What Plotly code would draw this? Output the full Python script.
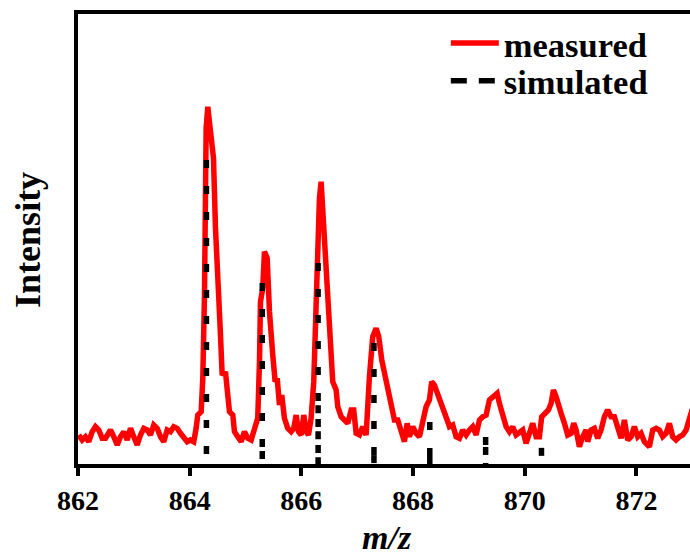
import plotly.graph_objects as go

# measured spectrum (m/z, relative intensity)
mz = [862.014, 862.075, 862.134, 862.193, 862.254, 862.313, 862.372, 862.433, 862.492, 862.551,
      862.582, 862.641, 862.702, 862.761, 862.820, 862.881, 862.940, 862.999, 863.060, 863.119,
      863.178, 863.239, 863.298, 863.357, 863.418, 863.477, 863.536, 863.597, 863.656, 863.715,
      863.776, 863.835, 863.894, 863.955, 864.014, 864.073, 864.116, 864.145, 864.206, 864.235,
      864.265, 864.283, 864.295, 864.324, 864.354, 864.385, 864.426, 864.462, 864.503, 864.546,
      864.582, 864.641, 864.682, 864.713, 864.772, 864.802, 864.861, 864.922, 864.981, 865.040,
      865.101, 865.160, 865.219, 865.250, 865.268, 865.309, 865.339, 865.388, 865.429, 865.488,
      865.531, 865.567, 865.608, 865.649, 865.697, 865.756, 865.817, 865.864, 865.907, 865.948,
      865.996, 866.043, 866.086, 866.127, 866.175, 866.222, 866.265, 866.283, 866.324, 866.354,
      866.383, 866.426, 866.473, 866.521, 866.562, 866.623, 866.652, 866.713, 866.772, 866.831,
      866.892, 866.938, 866.981, 867.040, 867.099, 867.160, 867.219, 867.278, 867.339, 867.386,
      867.440, 867.500, 867.547, 867.608, 867.667, 867.726, 867.787, 867.846, 867.894, 867.936,
      867.995, 868.056, 868.115, 868.174, 868.234, 868.293, 868.335, 868.383, 868.442, 868.503,
      868.562, 868.611, 868.652, 868.711, 868.772, 868.831, 868.890, 868.951, 869.010, 869.069,
      869.130, 869.189, 869.248, 869.309, 869.368, 869.409, 869.457, 869.506, 869.547, 869.606,
      869.667, 869.726, 869.785, 869.846, 869.905, 869.964, 870.024, 870.084, 870.143, 870.204,
      870.263, 870.304, 870.365, 870.424, 870.473, 870.514, 870.562, 870.591, 870.652, 870.711,
      870.770, 870.831, 870.878, 870.920, 870.979, 871.039, 871.099, 871.128, 871.189, 871.248,
      871.307, 871.368, 871.427, 871.486, 871.547, 871.606, 871.665, 871.726, 871.785, 871.844,
      871.905, 871.964, 872.023, 872.084, 872.143, 872.233, 872.292, 872.353, 872.412, 872.471,
      872.532, 872.591, 872.650, 872.711, 872.770, 872.830, 872.890, 872.936, 873.000]
intensity = [6.83, 5.73, 6.45, 5.35, 7.56, 8.66, 7.93, 6.10, 6.10, 7.56,
             7.93, 6.45, 4.63, 6.45, 7.56, 5.73, 8.30, 6.45, 4.63, 6.83,
             8.30, 7.93, 6.83, 9.03, 8.30, 6.45, 5.35, 7.93, 7.56, 8.66,
             8.30, 7.20, 6.10, 5.35, 5.73, 5.35, 8.37, 11.23, 11.96, 19.38,
             37.67, 59.69, 74.45, 79.14, 75.84, 70.04, 67.84, 52.42, 37.67, 30.40,
             20.04, 20.77, 15.64, 11.96, 11.23, 7.56, 6.45, 5.35, 7.56, 6.10,
             5.73, 7.93, 10.57, 22.97, 36.19, 39.21, 47.20, 45.81, 33.99, 24.45,
             18.57, 19.32, 13.44, 15.64, 10.51, 8.30, 7.56, 8.30, 11.23, 7.56,
             6.83, 11.23, 7.56, 6.83, 10.51, 18.57, 35.46, 49.41, 59.03, 62.62,
             56.01, 49.41, 37.00, 23.79, 18.57, 16.74, 13.06, 10.86, 10.13, 9.41,
             12.33, 12.33, 7.20, 6.83, 8.66, 6.83, 19.67, 28.48, 30.33, 28.48,
             23.35, 19.67, 16.74, 13.81, 10.13, 10.13, 7.93, 5.35, 9.41, 6.45,
             8.66, 7.20, 6.45, 10.13, 13.06, 14.54, 18.57, 17.84, 16.01, 13.81,
             11.60, 10.13, 8.66, 9.03, 6.45, 6.10, 7.93, 6.83, 7.93, 8.66,
             6.83, 10.13, 10.86, 11.23, 14.54, 14.91, 15.26, 16.01, 13.81, 11.60,
             8.66, 7.56, 8.66, 6.83, 7.56, 7.93, 5.00, 7.20, 9.41, 6.45,
             6.45, 10.86, 11.60, 12.33, 13.81, 16.74, 15.26, 13.81, 11.60, 9.41,
             6.83, 7.20, 9.41, 7.93, 4.25, 6.45, 7.93, 5.35, 7.93, 8.30,
             6.10, 7.93, 10.86, 12.33, 10.86, 10.86, 8.66, 6.10, 10.13, 5.73,
             6.45, 8.66, 6.45, 7.20, 5.35, 4.25, 7.93, 8.30, 7.93, 6.45,
             7.20, 9.41, 6.45, 5.73, 6.45, 6.83, 7.93, 10.13, 12.50]

# simulated isotope pattern (sticks)
sim_mz = [864.3, 865.3, 865.3, 866.3, 866.3, 867.3, 867.3, 868.3, 868.3, 869.3, 869.3, 870.3]
sim_int = [67.4, 40.3, 3.3, 44.7, 13.4, 27.1, 2.4, 9.7, 2.2, 6.4, 4.2, 4.0]

x_ticks = [862, 864, 866, 868, 870, 872]
x_range = [862, 872.96]
y_range = [0.44, 99.56]

FONT = "Liberation Serif, Times New Roman, serif"
LEG_FONT = dict(family=FONT, size=34.5, color="black", weight="bold")

stick_x, stick_y = [], []
for m, h in zip(sim_mz, sim_int):
    stick_x += [m, m, None]
    stick_y += [h, 0, None]

fig = go.Figure()
fig.add_trace(go.Scatter(x=mz, y=intensity, mode="lines", name="measured",
                         legend="legend",
                         line=dict(color="#ff0000", width=5.5)))
fig.add_trace(go.Scatter(x=stick_x, y=stick_y, mode="lines", name="simulated",
                         showlegend=False,
                         line=dict(color="black", width=5.5, dash="8px,18px")))
fig.add_trace(go.Scatter(x=[None], y=[None], mode="lines", name="simulated",
                         legend="legend2",
                         line=dict(color="black", width=5.5, dash="16px,12px")))

fig.update_xaxes(range=x_range, tickvals=x_ticks, ticks="outside", ticklen=8, tickwidth=4,
                 tickcolor="black", showline=True, linewidth=4, linecolor="black",
                 mirror=True, showgrid=False, zeroline=False,
                 tickfont=dict(family=FONT, size=28, color="black", weight="bold"))
fig.update_yaxes(range=y_range, showticklabels=False, ticks="", showline=True, linewidth=4,
                 linecolor="black", showgrid=False, zeroline=False)

fig.update_layout(
    width=690, height=558,
    margin=dict(l=78, r=0, t=14, b=94),
    paper_bgcolor="white", plot_bgcolor="white",
    legend=dict(x=0.601, y=0.9996, xanchor="left", yanchor="top",
                bgcolor="rgba(0,0,0,0)", itemwidth=48, font=LEG_FONT),
    legend2=dict(x=0.601, y=0.9162, xanchor="left", yanchor="top",
                 bgcolor="rgba(0,0,0,0)", itemwidth=48, font=LEG_FONT),
    annotations=[
        dict(text="Intensity", xref="paper", yref="paper", x=-0.0817, y=0.498,
             xanchor="center", yanchor="middle", textangle=-90, showarrow=False,
             font=dict(family=FONT, size=36, color="black", weight="bold")),
        dict(text="<i>m/z</i>", xref="paper", yref="paper", x=0.505, y=-0.2089,
             xanchor="center", yanchor="bottom", showarrow=False,
             font=dict(family=FONT, size=34, color="black", weight="bold")),
    ],
)

fig.write_html("out.html")
